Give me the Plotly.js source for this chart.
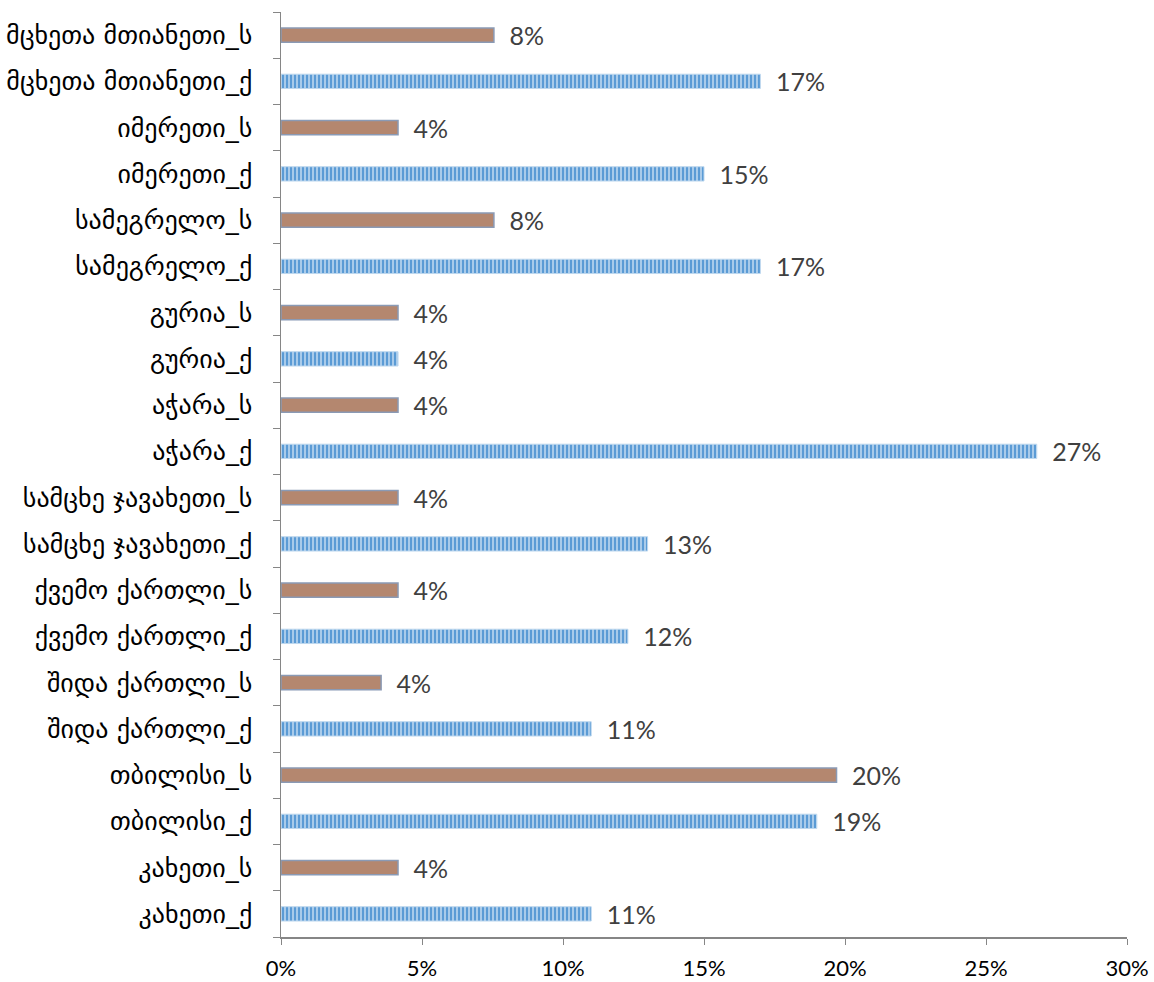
<!DOCTYPE html>
<html>
<head>
<meta charset="utf-8">
<script src="https://cdn.plot.ly/plotly-3.0.1.min.js"></script>
<style>html,body{margin:0;padding:0;background:#fff;}#chart{width:1154px;height:982px;}</style>
</head>
<body>
<div id="chart"></div>
<script>
// Categories bottom to top
const categories = [
  "კახეთი_ქ","კახეთი_ს","თბილისი_ქ","თბილისი_ს","შიდა ქართლი_ქ","შიდა ქართლი_ს",
  "ქვემო ქართლი_ქ","ქვემო ქართლი_ს","სამცხე ჯავახეთი_ქ","სამცხე ჯავახეთი_ს",
  "აჭარა_ქ","აჭარა_ს","გურია_ქ","გურია_ს","სამეგრელო_ქ","სამეგრელო_ს",
  "იმერეთი_ქ","იმერეთი_ს","მცხეთა მთიანეთი_ქ","მცხეთა მთიანეთი_ს"
];
const catsQ = ["კახეთი_ქ","თბილისი_ქ","შიდა ქართლი_ქ","ქვემო ქართლი_ქ","სამცხე ჯავახეთი_ქ","აჭარა_ქ","გურია_ქ","სამეგრელო_ქ","იმერეთი_ქ","მცხეთა მთიანეთი_ქ"];
const valuesQ = [11.0, 19.0, 11.0, 12.3, 13.0, 26.8, 4.15, 17.0, 15.0, 17.0];
const catsS = ["კახეთი_ს","თბილისი_ს","შიდა ქართლი_ს","ქვემო ქართლი_ს","სამცხე ჯავახეთი_ს","აჭარა_ს","გურია_ს","სამეგრელო_ს","იმერეთი_ს","მცხეთა მთიანეთი_ს"];
const valuesS = [4.15, 19.7, 3.55, 4.15, 4.15, 4.15, 4.15, 7.55, 4.15, 7.55];
const xTickVals = [0,5,10,15,20,25,30];
const xTickText = ["0%","5%","10%","15%","20%","25%","30%"];

const lbl = v => '\u2002' + Math.round(v) + '%';
const fontFam = 'Lato, "DejaVu Sans", sans-serif';

const traces = [
  {
    type:'bar', orientation:'h', y:catsQ, x:valuesQ,
    text: valuesQ.map(lbl), textposition:'outside', cliponaxis:false, constraintext:'none',
    textfont:{family:fontFam, size:25, color:'#404040'},
    marker:{color:'#9DC3E6', line:{color:'#BDD7EE', width:1},
      pattern:{shape:'|', fgcolor:'#5B9BD5', bgcolor:'#A9CBEA', size:4, solidity:0.5}},
    hoverinfo:'x+y'
  },
  {
    type:'bar', orientation:'h', y:catsS, x:valuesS,
    text: valuesS.map(lbl), textposition:'outside', cliponaxis:false, constraintext:'none',
    textfont:{family:fontFam, size:25, color:'#404040'},
    marker:{color:'#B4876F', line:{color:'#8A9AB5', width:1.5}},
    hoverinfo:'x+y'
  }
];

const layout = {
  width:1154, height:982,
  margin:{l:281, r:27, t:12, b:45},
  barmode:'overlay', bargap:0.69,
  showlegend:false,
  paper_bgcolor:'#fff', plot_bgcolor:'#fff',
  font:{family:fontFam, color:'#000'},
  xaxis:{range:[0,30], tickvals:xTickVals, ticktext:xTickText, showgrid:false, zeroline:false,
    showline:true, linecolor:'#868686', linewidth:1.5, ticks:'outside', ticklen:6, tickcolor:'#868686',
    ticklabelstandoff:5,
    tickfont:{family:fontFam, size:22, color:'#000'}, fixedrange:true},
  yaxis:{type:'category', categoryorder:'array', categoryarray:categories, showgrid:false, zeroline:false,
    showline:true, linecolor:'#868686', linewidth:1.5, ticks:'outside', ticklen:7, tickcolor:'#868686',
    tickson:'boundaries', ticklabelstandoff:22,
    tickfont:{family:'"DejaVu Sans", sans-serif', size:26, color:'#000'}, range:[-0.5,19.5], fixedrange:true}
};

Plotly.newPlot('chart', traces, layout, {displayModeBar:false, staticPlot:true});
</script>
</body>
</html>
